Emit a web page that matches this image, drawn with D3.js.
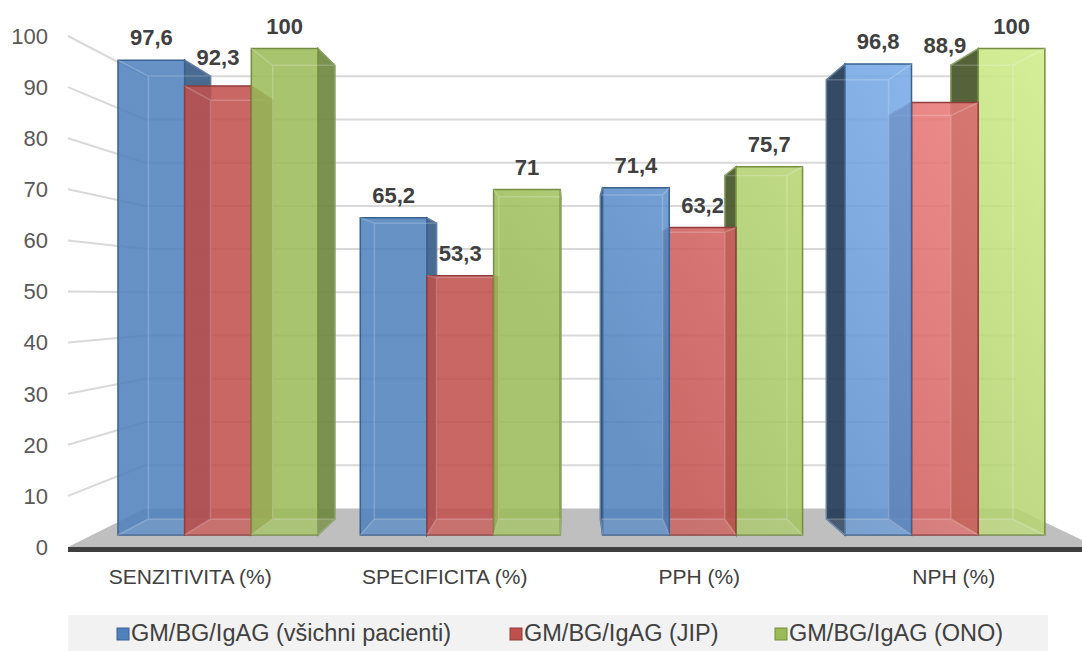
<!DOCTYPE html>
<html>
<head>
<meta charset="utf-8">
<script src="https://cdn.jsdelivr.net/npm/d3@7"></script>
<style>
  html, body { margin: 0; padding: 0; background: #ffffff; }
  svg { display: block; font-family: "Liberation Sans", Arial, sans-serif; }
</style>
</head>
<body>
<svg id="chart" width="1082" height="651"></svg>
<script>
// ---- data ----
const categories = ["SENZITIVITA (%)", "SPECIFICITA (%)", "PPH (%)", "NPH (%)"];
const seriesNames = ["GM/BG/IgAG (všichni pacienti)", "GM/BG/IgAG (JIP)", "GM/BG/IgAG (ONO)"];
const allPatients = [97.6, 65.2, 71.4, 96.8];
const icuPatients = [92.3, 53.3, 63.2, 88.9];
const onoPatients = [100, 71, 75.7, 100];
const yTicks = [0, 10, 20, 30, 40, 50, 60, 70, 80, 90, 100];

const seriesValues = [allPatients, icuPatients, onoPatients];
const seriesBase  = ["#4f81bd", "#c0504d", "#9bbb59"];
const seriesLight = ["#86b9f7", "#f58585", "#d2ef8c"];

// ---- perspective setup ----
// Everything is laid out on the front plane (depth scale 1) and then
// projected toward a single vanishing point.
const VP = { x: 570, y: 297 };
const DEPTH_WALL = 0.846;       // back wall
const DEPTH_BAR_FRONT = 0.952;  // front faces of the columns
const DEPTH_BAR_BACK = 0.888;   // back faces of the columns
const proj = (x, y, s) => [VP.x + (x - VP.x) * s, VP.y + (y - VP.y) * s];

const floorLeft = 68, floorRight = 1097;
const y = d3.scaleLinear().domain([0, 100]).range([547, 36]);
const xCat = d3.scaleBand().domain(categories).range([73, 1091]);
const xSer = d3.scaleBand().domain(seriesNames).range([0, xCat.bandwidth()])
  .paddingInner(0).paddingOuter(0.317);

const fmt = d3.formatLocale({ decimal: ",", thousands: " ", grouping: [3], currency: ["", ""] }).format("~g");

const svg = d3.select("#chart");
const defs = svg.append("defs");
seriesNames.forEach((s, i) => {
  const g = defs.append("linearGradient").attr("id", "fill" + i)
    .attr("gradientUnits", "userSpaceOnUse")
    .attr("x1", 300).attr("y1", 550).attr("x2", 1082).attr("y2", 40);
  g.append("stop").attr("offset", 0.35).attr("stop-color", seriesBase[i]);
  g.append("stop").attr("offset", 1).attr("stop-color", seriesLight[i]);
});

const poly = pts => "M" + pts.map(p => p.join(",")).join("L") + "Z";

// ---- floor ----
const floorTop = [proj(floorLeft, y(0), 1), proj(floorRight, y(0), 1),
                  proj(floorRight, y(0), DEPTH_WALL), proj(floorLeft, y(0), DEPTH_WALL)];
svg.append("path").attr("d", poly(floorTop)).attr("fill", "#bfbfbf");
svg.append("rect").attr("x", floorLeft).attr("y", y(0)).attr("width", floorRight - floorLeft)
  .attr("height", 5).attr("fill", "#3f3f3f");

// ---- gridlines: side wall and back wall ----
const grid = svg.append("g").attr("stroke", "#d9d9d9").attr("stroke-width", 2).attr("fill", "none");
yTicks.filter(t => t > 0).forEach(t => {
  const a = proj(floorLeft, y(t), 1), b = proj(floorLeft, y(t), DEPTH_WALL),
        c = proj(floorRight, y(t), DEPTH_WALL);
  grid.append("path").attr("d", "M" + a + "L" + b + "L" + c);
});

// ---- y tick labels ----
svg.append("g").selectAll("text").data(yTicks).join("text")
  .attr("x", 48).attr("y", d => y(d) + 2)
  .attr("text-anchor", "end").attr("dominant-baseline", "middle")
  .attr("font-size", 22).attr("fill", "#595959").text(d => d);

// ---- columns ----
const bars = [];
categories.forEach((c, ci) => {
  seriesNames.forEach((s, si) => {
    const v = seriesValues[si][ci];
    const xl = xCat(c) + xSer(s), xr = xl + xSer.bandwidth();
    const F = [proj(xl, y(v), DEPTH_BAR_FRONT), proj(xr, y(v), DEPTH_BAR_FRONT),
               proj(xr, y(0), DEPTH_BAR_FRONT), proj(xl, y(0), DEPTH_BAR_FRONT)];
    const B = [proj(xl, y(v), DEPTH_BAR_BACK), proj(xr, y(v), DEPTH_BAR_BACK),
               proj(xr, y(0), DEPTH_BAR_BACK), proj(xl, y(0), DEPTH_BAR_BACK)];
    bars.push({ ci, si, v, F, B, cx: (F[0][0] + F[1][0]) / 2 });
  });
});

const barLayer = svg.append("g");
bars.slice().sort((a, b) => Math.abs(b.cx - VP.x) - Math.abs(a.cx - VP.x)).forEach(b => {
  const g = barLayer.append("g");
  const base = d3.color(seriesBase[b.si]);
  const edge = base.darker(0.8).formatHex();
  const { F, B } = b;
  // visible side face
  let side = null;
  if (F[1][0] < VP.x) {
    side = [F[1], B[1], B[2], F[2]];
    g.append("path").attr("d", poly(side)).attr("fill", base.darker(0.9).formatHex())
      .attr("fill-opacity", 0.92).attr("stroke", edge).attr("stroke-width", 1.5);
  } else if (F[0][0] > VP.x) {
    side = [F[0], B[0], B[3], F[3]];
    g.append("path").attr("d", poly(side)).attr("fill", base.darker(2.2).formatHex())
      .attr("fill-opacity", 0.92).attr("stroke", edge).attr("stroke-width", 1.5);
  }
  b.side = side;
  // front face
  g.append("path").attr("d", poly(F)).attr("fill", `url(#fill${b.si})`)
    .attr("fill-opacity", 0.87).attr("stroke", edge).attr("stroke-width", 1.5);
  // bottom face seen through the translucent column
  g.append("path").attr("d", poly([F[3], F[2], B[2], B[3]]))
    .attr("fill", "#ffffff").attr("fill-opacity", 0.12);
  // hidden back edges
  g.append("path")
    .attr("d", poly(B) + "M" + F[0] + "L" + B[0] + "M" + F[1] + "L" + B[1] +
               "M" + F[2] + "L" + B[2] + "M" + F[3] + "L" + B[3])
    .attr("fill", "none").attr("stroke", "#ffffff").attr("stroke-opacity", 0.2).attr("stroke-width", 1.5);
});

// ---- value labels (lifted clear of neighbouring side faces) ----
const labelLayer = svg.append("g").attr("font-size", 22).attr("font-weight", "bold")
  .attr("fill", "#404040").attr("text-anchor", "middle");
bars.forEach(b => {
  const text = fmt(b.v);
  const t = labelLayer.append("text").attr("x", b.cx).text(text);
  const w = t.node().getComputedTextLength();
  const l = b.cx - w / 2, r = b.cx + w / 2;
  let base = b.F[0][1] - 15;
  bars.forEach(o => {
    if (o === b || !o.side || o.ci !== b.ci) return;
    const [p, q] = [o.side[0], o.side[1]];
    const lo = Math.max(l, Math.min(p[0], q[0])), hi = Math.min(r, Math.max(p[0], q[0]));
    if (hi - lo < 4) return;
    const yAt = x => p[1] + (q[1] - p[1]) * (x - p[0]) / (q[0] - p[0]);
    base = Math.min(base, Math.min(yAt(lo), yAt(hi)) - 3);
  });
  t.attr("y", base);
});

// ---- category labels ----
const catLabelShift = -10;
svg.append("g").selectAll("text").data(categories).join("text")
  .attr("x", d => xCat(d) + xCat.bandwidth() / 2 + catLabelShift).attr("y", 578)
  .attr("text-anchor", "middle").attr("dominant-baseline", "middle")
  .attr("font-size", 21).attr("fill", "#404040").text(d => d);

// ---- legend ----
const legend = svg.append("g");
legend.append("rect").attr("x", 68).attr("y", 615).attr("width", 980).attr("height", 36).attr("fill", "#f2f2f2");
const legendX = [117, 510, 775];
seriesNames.forEach((s, i) => {
  const g = legend.append("g").attr("transform", `translate(${legendX[i]},634)`);
  g.append("rect").attr("x", 0).attr("y", -6).attr("width", 12).attr("height", 12)
    .attr("fill", seriesBase[i]).attr("stroke", d3.color(seriesBase[i]).darker(0.8)).attr("stroke-width", 1);
  g.append("text").attr("x", 14).attr("y", 1).attr("dominant-baseline", "middle")
    .attr("font-size", 23.5).attr("fill", "#404040").text(s);
});
</script>
</body>
</html>
